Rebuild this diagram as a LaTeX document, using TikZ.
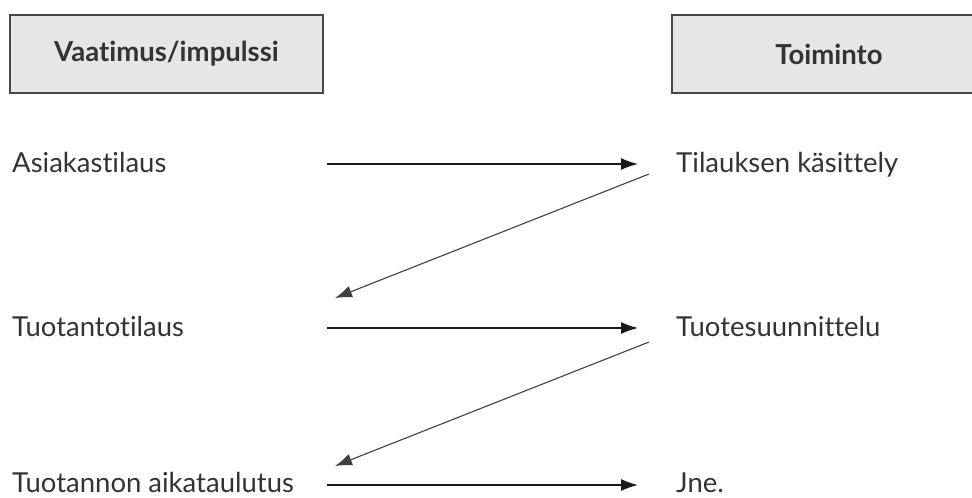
\documentclass[tikz,border=0pt]{standalone}
\usepackage{fontspec}
\setmainfont[Ligatures={NoCommon}]{Lato}
\usetikzlibrary{arrows.meta}
\definecolor{boxfill}{HTML}{E6E6E8}
\definecolor{boxline}{HTML}{474747}
\definecolor{txt}{HTML}{333333}
\tikzset{
  hdr/.style={draw=boxline, line width=2pt, fill=boxfill, minimum height=78pt, inner sep=0pt, font=\fontsize{27.5}{32}\selectfont\bfseries, text=txt},
  lbl/.style={anchor=base west, inner sep=0pt, font=\fontsize{27.5}{32}\selectfont, text=txt},
  harr/.style={line width=1.4pt, -{Latex[length=17pt,width=12pt]}, draw=black!90},
  darr/.style={line width=1.1pt, -{Latex[length=17pt,width=12pt]}, draw=black!75},
}
\begin{document}
\begin{tikzpicture}[x=1pt,y=-1pt]
\useasboundingbox (0,0) rectangle (972,498);
\begin{scope}
\clip (0,0) rectangle (972,498);
\node[hdr, minimum width=313pt] (h1) at (166.5,54) {Vaatimus/impulssi};
\node[hdr, minimum width=314pt] (h2) at (829,54) {Toiminto};
\end{scope}
\node[lbl] (a1) at (12,172) {Asiakastilaus};
\node[lbl] (b1) at (676,172) {Tilauksen käsittely};
\node[lbl] (a2) at (12,336) {Tuotantotilaus};
\node[lbl] (b2) at (676,336) {Tuotesuunnittelu};
\node[lbl] (a3) at (12,492) {Tuotannon aikataulutus};
\node[lbl] (b3) at (676,492) {Jne.};
\coordinate (s1) at (327,164);
\coordinate (e1) at (638,164);
\coordinate (s2) at (327,328);
\coordinate (e2) at (638,328);
\coordinate (s3) at (327,485);
\coordinate (e3) at (638,485);
\coordinate (d1s) at (649,174);
\coordinate (d1e) at (335,298);
\coordinate (d2s) at (649,342);
\coordinate (d2e) at (335,466);
\draw[harr] (s1) -- (e1);
\draw[harr] (s2) -- (e2);
\draw[harr] (s3) -- (e3);
\draw[darr] (d1s) -- (d1e);
\draw[darr] (d2s) -- (d2e);
\end{tikzpicture}
\end{document}
